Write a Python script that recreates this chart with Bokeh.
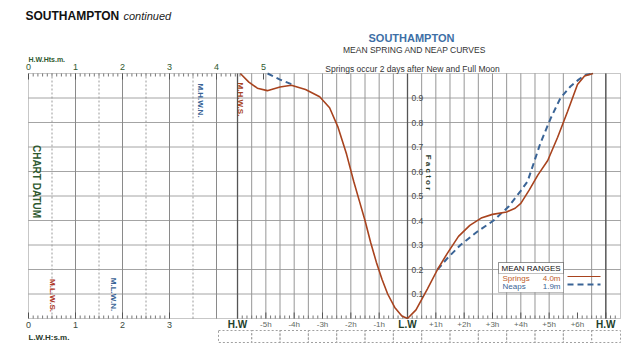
import math
from bokeh.plotting import figure
from bokeh.models import Range1d, Label, BoxAnnotation
from bokeh.core.properties import value
from bokeh.embed import file_html
from bokeh.resources import INLINE

# ---------------- data (hours relative to Low Water, height factor) ----------------
springs_hours = [-5.9, -5.6, -5.3, -4.95, -4.5, -4.1, -3.6, -3.1, -2.75, -2.45, -2.15, -1.9,
                 -1.7, -1.5, -1.3, -1.1, -0.9, -0.7, -0.45, -0.2, 0.0, 0.3, 0.7, 1.06, 1.4,
                 1.8, 2.2, 2.6, 3.0, 3.5, 3.8, 4.0, 4.3, 4.6, 4.95, 5.3, 5.65, 6.0, 6.25, 6.55]
springs_factor = [1.0, 0.965, 0.94, 0.93, 0.945, 0.952, 0.935, 0.905, 0.86, 0.78, 0.67, 0.56,
                  0.48, 0.40, 0.31, 0.23, 0.16, 0.10, 0.045, 0.01, 0.0, 0.035, 0.12, 0.2, 0.265,
                  0.335, 0.38, 0.41, 0.425, 0.435, 0.45, 0.47, 0.525, 0.585, 0.645, 0.74, 0.845,
                  0.955, 0.99, 1.0]
neaps_hours_before = [-4.94, -4.5, -4.06]
neaps_factor_before = [1.0, 0.975, 0.955]
neaps_hours_after = [1.06, 1.4, 1.87, 2.47, 3.04, 3.57, 3.99, 4.24, 4.69, 5.05, 5.4, 5.75,
                     6.04, 6.3, 6.55]
neaps_factor_after = [0.2, 0.245, 0.30, 0.355, 0.40, 0.457, 0.52, 0.56, 0.715, 0.816, 0.9,
                      0.947, 0.975, 0.995, 1.0]

mean_range_springs = 4.0
mean_range_neaps = 1.9
MHWS, MHWN, MLWN, MLWS = 4.5, 3.7, 1.8, 0.5

factor_ticks = [0.1, 0.2, 0.3, 0.4, 0.5, 0.6, 0.7, 0.8, 0.9]
hour_ticks = [-6, -5, -4, -3, -2, -1, 0, 1, 2, 3, 4, 5, 6, 7]
hour_labels = ["H.W", "-5h", "-4h", "-3h", "-2h", "-1h", "L.W",
               "+1h", "+2h", "+3h", "+4h", "+5h", "+6h", "H.W"]
hw_height_ticks = [0, 1, 2, 3, 4, 5]
lw_height_ticks = [0, 1, 2, 3]

# ---------------- layout constants (pixels of the 640x352 page) ----------------
W, H = 640, 352
FL, FR, FT, FB = 28, 620, 73, 318
LW_PX = 407
PX_PER_H = 28.33
PX_PER_M = 47.0


def px2h(px):
    return (px - LW_PX) / PX_PER_H


def py2f(py):
    return (FB - py) / (FB - FT)


def m2h(m):
    return px2h(FL + m * PX_PER_M)


def dy(px):
    return px / (FB - FT)


FONT = "Liberation Sans"
GREEN = "#2f5a30"
RED = "#a8431e"
BLUE = "#3a6496"

p = figure(width=W, height=H, x_range=Range1d(px2h(0), px2h(W)),
           y_range=Range1d(py2f(H), py2f(0)), x_axis_type=None, y_axis_type=None,
           output_backend="svg", toolbar_location=None, min_border=0)
p.outline_line_color = None
p.grid.visible = False
p.background_fill_color = "white"
p.border_fill_color = "white"

X_L, X_R = px2h(FL), px2h(FR)

# ---------------- grid ----------------
p.segment(x0=[X_L] * len(factor_ticks), x1=[X_R] * len(factor_ticks),
          y0=factor_ticks, y1=factor_ticks, line_color="#a4a4a4", line_width=1)
metre_major = [m2h(m) for m in [1, 2, 3, 4]]
p.segment(x0=metre_major, x1=metre_major, y0=0, y1=1, line_color="#8a8a8a", line_width=1)
metre_half = [m2h(m) for m in [0.5, 1.5, 2.5, 3.5]]
p.segment(x0=metre_half, x1=metre_half, y0=0, y1=1, line_color="#9a9a9a", line_width=1,
          line_dash="2 2")
half_hours = [h / 2 for h in range(-11, 15) if h % 12 != 0]
p.segment(x0=half_hours, x1=half_hours, y0=0, y1=1, line_color="#969696", line_width=1)
key_hours = [-6, 0, 7]
p.segment(x0=key_hours, x1=key_hours, y0=0, y1=1, line_color="#555555", line_width=1.3)

# chart border
p.add_layout(BoxAnnotation(left=X_L, right=X_R, bottom=0, top=1, fill_alpha=0,
                           line_color="#444444", line_width=1))

# ---------------- top ruler: H.W heights (m) ----------------
top_major = [m2h(m) for m in hw_height_ticks]
p.segment(x0=top_major, x1=top_major, y0=1, y1=1 - dy(6), line_color="#555555")
top_minor = [m2h(i / 10) for i in range(1, 46) if i % 10]
p.segment(x0=top_minor, x1=top_minor, y0=1, y1=1 - dy(3), line_color="#777777")
p.text(x=top_major, y=[py2f(66)] * len(top_major), text=[str(m) for m in hw_height_ticks],
       text_font=value(FONT), text_font_size="9px", text_color=GREEN,
       text_align="center", text_baseline="middle")

# ---------------- bottom rulers: L.W heights (m) and hours ----------------
bot_major = [m2h(m) for m in lw_height_ticks] + hour_ticks
p.segment(x0=bot_major, x1=bot_major, y0=0, y1=dy(6), line_color="#555555")
bot_minor = [m2h(i / 10) for i in range(1, 30) if i % 10] + \
            [-6 + i / 6 for i in range(1, 81) if i % 6]
p.segment(x0=bot_minor, x1=bot_minor, y0=0, y1=dy(3), line_color="#777777")
lw_x = [m2h(m) for m in lw_height_ticks]
p.text(x=lw_x, y=[py2f(324)] * len(lw_x), text=[str(m) for m in lw_height_ticks],
       text_font=value(FONT), text_font_size="9px", text_color="#3a4a3e",
       text_align="center", text_baseline="middle")
small_h = [h for h, t in zip(hour_ticks, hour_labels) if t not in ("H.W", "L.W")]
small_t = [t for t in hour_labels if t not in ("H.W", "L.W")]
p.text(x=small_h, y=[py2f(324)] * len(small_h), text=small_t,
       text_font=value(FONT), text_font_size="8px", text_color="#5f6a63",
       text_align="center", text_baseline="middle")
big_h = [h for h, t in zip(hour_ticks, hour_labels) if t in ("H.W", "L.W")]
big_t = [t for t in hour_labels if t in ("H.W", "L.W")]
p.text(x=big_h, y=[py2f(324)] * len(big_h), text=big_t,
       text_font=value(FONT), text_font_size="10px", text_font_style="bold",
       text_color="#22402a", text_align="center", text_baseline="middle")

# row of writing boxes under the time axis
edges = [px2h(218)] + [h + 0.5 for h in hour_ticks[:-1]] + [X_R]
p.quad(left=edges[:-1], right=edges[1:], top=py2f(330), bottom=py2f(342),
       fill_color=None, line_color="#a0a0a0", line_dash="2 2", line_width=1)

# ---------------- curves ----------------
p.line(neaps_hours_before, neaps_factor_before, line_color=BLUE, line_width=2,
       line_dash="6 4")
p.line(neaps_hours_after, neaps_factor_after, line_color=BLUE, line_width=2,
       line_dash="6 4")
p.line(springs_hours, springs_factor, line_color=RED, line_width=1.6)


def lab(x, y, text, size="8px", color="#333333", style="normal", align="left",
        baseline="middle", angle=0.0):
    p.add_layout(Label(x=x, y=y, text=text, text_font=FONT, text_font_size=size,
                       text_color=color, text_font_style=style, text_align=align,
                       text_baseline=baseline, angle=angle))


# ---------------- factor scale labels ----------------
p.text(x=[px2h(411)] * len(factor_ticks), y=factor_ticks,
       text=[f"{f:.1f}" for f in factor_ticks], text_font=value(FONT),
       text_font_size="8.5px", text_color="#4a4a4a", text_align="left",
       text_baseline="middle")
lab(px2h(428), py2f(172), "F a c t o r", size="8px", color="#2a3a2a", style="bold",
    align="center", angle=-math.pi / 2)
lab(m2h(0.17), py2f(181), "CHART DATUM", size="10px", color=GREEN, style="bold",
    align="center", angle=-math.pi / 2)

# mean level labels
lab(m2h(MHWS), py2f(99), "M.H.W.S.", size="8px", color=RED, style="bold",
    align="center", angle=-math.pi / 2)
lab(m2h(MHWN) - 0.06, py2f(100), "M.H.W.N.", size="8px", color=BLUE, style="bold",
    align="center", angle=-math.pi / 2)
lab(m2h(MLWN), py2f(294), "M.L.W.N.", size="8px", color=BLUE, style="bold",
    align="center", angle=-math.pi / 2)
lab(m2h(MLWS), py2f(295), "M.L.W.S.", size="8px", color="#b03a2a", style="bold",
    align="center", angle=-math.pi / 2)

# ---------------- legend (mean ranges) ----------------
p.add_layout(BoxAnnotation(left=px2h(498), right=px2h(563), top=py2f(262), bottom=py2f(292),
                           fill_color="white", fill_alpha=1, line_color="#333333",
                           line_width=1))
p.add_layout(BoxAnnotation(left=px2h(498), right=px2h(563), top=py2f(262), bottom=py2f(273),
                           fill_alpha=0, line_color="#333333", line_width=1))
lab(px2h(501), py2f(267.5), "MEAN RANGES", size="8px", color="#111111")
lab(px2h(502), py2f(278), "Springs", size="8px", color="#c0602a")
lab(px2h(560), py2f(278), f"{mean_range_springs:.1f}m", size="8px", color="#c0602a",
    align="right")
lab(px2h(502), py2f(286), "Neaps", size="8px", color=BLUE)
lab(px2h(560), py2f(286), f"{mean_range_neaps:.1f}m", size="8px", color=BLUE,
    align="right")
p.line([px2h(567), px2h(600)], [py2f(276), py2f(276)], line_color=RED, line_width=1.2)
p.line([px2h(567), px2h(600)], [py2f(284), py2f(284)], line_color=BLUE, line_width=2,
       line_dash="6 4")

# ---------------- titles and outer texts ----------------
lab(px2h(25), py2f(15), "SOUTHAMPTON", size="12px", color="#111111", style="bold")
lab(px2h(123), py2f(15), "continued", size="11px", color="#222222", style="italic")
lab(px2h(411), py2f(37), "SOUTHAMPTON", size="11px", color="#3d6fa6", style="bold",
    align="center")
lab(px2h(414), py2f(49), "MEAN SPRING AND NEAP CURVES", size="8.5px", color="#333333",
    align="center")
lab(px2h(412), py2f(68), "Springs occur 2 days after New and Full Moon", size="8.5px",
    color="#333333", align="center")
lab(px2h(28), py2f(59), "H.W.Hts.m.", size="7px", color=GREEN, style="bold")
lab(px2h(28), py2f(337), "L.W.H:s.m.", size="8px", color="#2a3a2a", style="bold")

open("out.html", "w").write(file_html(p, INLINE))
